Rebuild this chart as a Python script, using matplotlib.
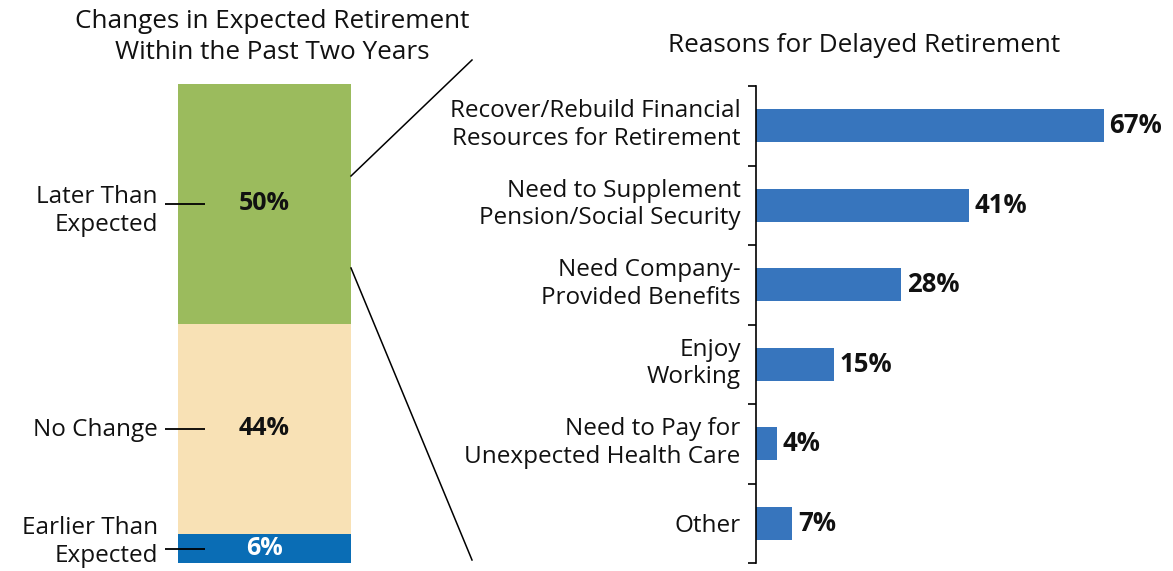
import matplotlib
matplotlib.use("Agg")
import matplotlib.pyplot as plt
from matplotlib.lines import Line2D
from matplotlib.transforms import ScaledTranslation

plt.rcParams['font.family'] = ['Open Sans', 'DejaVu Sans']

# Left stacked bar data
stack_labels = ["Earlier Than\nExpected", "No Change", "Later Than\nExpected"]
stack_values = [6, 44, 50]
stack_colors = ["#0A6DB5", "#F8E1B5", "#9BBB5D"]
stack_text_colors = ["white", "#111111", "#111111"]

# Right bar chart data
reasons = ["Recover/Rebuild Financial\nResources for Retirement",
           "Need to Supplement\nPension/Social Security",
           "Need Company-\nProvided Benefits",
           "Enjoy\nWorking",
           "Need to Pay for\nUnexpected Health Care",
           "Other"]
reason_values = [67, 41, 28, 15, 4, 7]
bar_color = "#3775BD"

FS = 17.5
FST = 18.8
FSB = 18.5
LS = 1.2

W, H = 1173, 571
fig = plt.figure(figsize=(W / 100, H / 100), dpi=100)

def fx(px):
    return px / W

def fy(py):
    return 1 - py / H

def nudge(artist, dy_px_down):
    artist.set_transform(artist.get_transform() +
                         ScaledTranslation(0, -dy_px_down / 100, fig.dpi_scale_trans))

# ---- Left stacked bar
axL = fig.add_axes([fx(178), fy(563), fx(351) - fx(178), fy(84) - fy(563)])
bottom = 0
for lab, v, c, tc in zip(stack_labels, stack_values, stack_colors, stack_text_colors):
    axL.bar(0, v, bottom=bottom, width=1.0, color=c, edgecolor='none')
    axL.text(0, bottom + v / 2, f"{v}%", ha='center', va='center',
             fontsize=FSB - 0.5, fontweight='bold', color=tc)
    bottom += v
axL.set_xlim(-0.5, 0.5)
axL.set_ylim(0, 100)
axL.axis('off')

label_nudges = [-6.5, 1, 7]  # pixels, down positive
bottom = 0
for i, (lab, v) in enumerate(zip(stack_labels, stack_values)):
    mid = bottom + v / 2
    axL.plot([-0.5 - 13 / 173, -0.5 + 27 / 173], [mid, mid], color='black',
             lw=1.3, clip_on=False, solid_capstyle='butt')
    t = axL.text(-0.5 - 20 / 173, mid, lab, ha='right', va='center', fontsize=FS,
                 color='#111111', linespacing=LS, clip_on=False)
    nudge(t, label_nudges[i])
    bottom += v

fig.text(fx(272), fy(37), "Changes in Expected Retirement\nWithin the Past Two Years",
         ha='center', va='center', fontsize=FST, color='#111111', linespacing=1.3)

# ---- Right bar chart
axR = fig.add_axes([fx(756), fy(563), fx(1168) - fx(756), fy(86) - fy(563)])
ypos = list(range(len(reasons)))
axR.barh(ypos, reason_values, height=0.41, color=bar_color, edgecolor='none')
for y, v in zip(ypos, reason_values):
    axR.text(v + 1.1, y, f"{v}%", ha='left', va='center', fontsize=FSB,
             fontweight='bold', color='#111111')
axR.set_ylim(len(reasons) - 0.5, -0.5)
axR.set_xlim(0, (1168 - 756) / 5.19)
axR.set_yticks(ypos)
axR.set_yticklabels(reasons, fontsize=FS, color='#111111', linespacing=LS)
axR.tick_params(axis='y', which='major', length=0, pad=11)
for lbl in axR.get_yticklabels():
    if "\n" in lbl.get_text():
        nudge(lbl, -5.5)
axR.set_yticks([k - 0.5 for k in range(len(reasons) + 1)], minor=True)
axR.tick_params(axis='y', which='minor', length=6, width=1.2, direction='out')
axR.set_xticks([])
for s in ['top', 'right', 'bottom']:
    axR.spines[s].set_visible(False)
axR.spines['left'].set_linewidth(1.2)

fig.text(fx(864), fy(45), "Reasons for Delayed Retirement", ha='center', va='center',
         fontsize=FST, color='#111111')

# connector lines
fig.add_artist(Line2D([fx(351), fx(472)], [fy(176), fy(60)], color='black', lw=1.1))
fig.add_artist(Line2D([fx(351), fx(472)], [fy(268), fy(560)], color='black', lw=1.1))

fig.savefig("out.png", dpi=100)
